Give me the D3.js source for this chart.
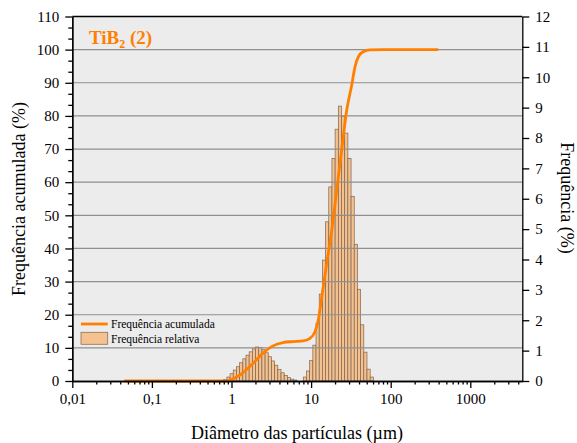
<!DOCTYPE html>
<html>
<head>
<meta charset="utf-8">
<script src="https://cdn.jsdelivr.net/npm/d3@7"></script>
<style>
  body { margin: 0; background: #fff; }
  svg { display: block; font-family: "Liberation Serif", "Times New Roman", serif; }
  .axis path, .axis line { stroke: #000; stroke-width: 1.3; }
  .axis text { font-size: 15px; fill: #000; }
</style>
</head>
<body>
<svg id="chart" width="577" height="443"></svg>
<script>
// histogram bins (lower edges, µm) and relative frequency (%)
const binEdges = [0.798, 0.875, 0.959, 1.052, 1.153, 1.265, 1.387, 1.521, 1.667, 1.828,
  2.004, 2.198, 2.410, 2.642, 2.897, 3.177, 3.483, 3.819, 4.188, 4.592,
  5.035, 5.521, 6.053, 6.637, 7.278, 7.980, 8.750, 9.594, 10.52, 11.53,
  12.65, 13.87, 15.21, 16.67, 18.28, 20.04, 21.98, 24.10, 26.42, 28.97,
  31.77, 34.83, 38.19, 41.88, 45.92, 50.35, 55.21, 60.53];
const freqRel = [0.05, 0.13, 0.24, 0.36, 0.47, 0.60, 0.73, 0.85, 0.96, 1.06,
  1.12, 1.10, 1.03, 0.93, 0.80, 0.66, 0.52, 0.38, 0.27, 0.18,
  0.11, 0.06, 0.03, 0, 0,
  0.13, 0.33, 0.67, 1.18, 1.90, 2.86, 3.98, 5.24, 6.39, 7.33,
  8.29, 9.05, 8.72, 8.16, 7.33, 6.08, 4.50, 3.02, 1.85, 0.95,
  0.39, 0.13];

// cumulative curve
const cumDiam = [0.045, 0.3, 0.85, 0.96, 1.28, 1.86, 2.49, 3.32, 4.43, 5.93, 7.9, 9.7,
  11.2, 12.3, 13.6, 15.7, 18.2, 21.0, 24.2, 28.0, 32.4, 35.6, 39.2, 45.3, 55, 80, 396];
const cumPct = [0, 0, 0, 0.3, 1.8, 5.3, 8.4, 10.6, 11.6, 11.9, 12.1, 12.9,
  14.9, 18.4, 25.4, 35.5, 45.6, 57.6, 69.7, 81.7, 89.3, 94.8, 97.8, 99.4, 99.9, 100, 100];

const xMajor = [0.01, 0.1, 1, 10, 100, 1000];
const leftTicks = [0, 10, 20, 30, 40, 50, 60, 70, 80, 90, 100, 110];
const rightTicks = [0, 1, 2, 3, 4, 5, 6, 7, 8, 9, 10, 11, 12];

const serif = '"Liberation Serif", "Times New Roman", serif';
const orange = '#ff7f00';
const L = 72.3, R = 522.3, T = 16.5, B = 381;

const svg = d3.select('#chart');

const x = d3.scaleLog().domain([0.01, 4500]).range([L, R]);
const yL = d3.scaleLinear().domain([0, 110]).range([B, T]);
const yR = d3.scaleLinear().domain([0, 12]).range([B, T]);

svg.append('rect')
  .attr('x', L).attr('y', T)
  .attr('width', R - L).attr('height', B - T)
  .attr('fill', '#ececec');

// bars
const bins = freqRel.map((v, i) => ({ x0: binEdges[i], x1: binEdges[i + 1] ?? binEdges[i] * 1.0965, v }))
  .filter((d) => d.v > 0);

svg.append('g')
  .selectAll('rect')
  .data(bins)
  .join('rect')
  .attr('x', (d) => x(d.x0))
  .attr('y', (d) => yR(d.v))
  .attr('width', (d) => x(d.x1) - x(d.x0))
  .attr('height', (d) => yR(0) - yR(d.v))
  .attr('fill', '#f5c28f')
  .attr('stroke', '#7d6552')
  .attr('stroke-width', 0.7);

// grid lines (drawn over bars like the original)
svg.append('g')
  .selectAll('line')
  .data(leftTicks.filter((d) => d > 0 && d < 110))
  .join('line')
  .attr('x1', L).attr('x2', R)
  .attr('y1', (d) => yL(d)).attr('y2', (d) => yL(d))
  .attr('stroke', '#8f8f8f')
  .attr('stroke-width', 1.2);

// cumulative curve
const line = d3.line()
  .x((d) => x(d[0]))
  .y((d) => yL(d[1]))
  .curve(d3.curveMonotoneX);

svg.append('path')
  .datum(cumDiam.map((d, i) => [d, cumPct[i]]))
  .attr('d', line)
  .attr('fill', 'none')
  .attr('stroke', orange)
  .attr('stroke-width', 2.8);

// axes
const fmt = (d) => String(d).replace('.', ',');
const styleAxis = (g) => g.attr('font-family', serif).attr('font-size', 15);

svg.append('g')
  .attr('class', 'axis')
  .attr('transform', `translate(0,${B})`)
  .call(d3.axisBottom(x).tickValues(xMajor).tickFormat(fmt).tickSize(7).tickPadding(5).tickSizeOuter(0))
  .call(styleAxis);

svg.append('g')
  .attr('class', 'axis')
  .attr('transform', `translate(0,${B})`)
  .call(d3.axisBottom(x).tickValues(x.ticks().filter((d) => !xMajor.includes(d))).tickFormat('').tickSize(3.5).tickSizeOuter(0));

const leftMinor = d3.range(0, 110.01, 10 / 3).filter((d) => Math.abs(d / 10 - Math.round(d / 10)) > 0.01);

svg.append('g')
  .attr('class', 'axis')
  .attr('transform', `translate(${L},0)`)
  .call(d3.axisLeft(yL).tickValues(leftTicks).tickSize(7).tickPadding(6).tickSizeOuter(0))
  .call(styleAxis);

svg.append('g')
  .attr('class', 'axis')
  .attr('transform', `translate(${L},0)`)
  .call(d3.axisLeft(yL).tickValues(leftMinor).tickFormat('').tickSize(4).tickSizeOuter(0));

svg.append('g')
  .attr('class', 'axis')
  .attr('transform', `translate(${R},0)`)
  .call(d3.axisRight(yR).tickValues(rightTicks).tickSize(7).tickPadding(6).tickSizeOuter(0))
  .call(styleAxis);

svg.append('line')
  .attr('x1', L).attr('x2', R).attr('y1', T).attr('y2', T)
  .attr('stroke', '#000').attr('stroke-width', 1.3);

// labels
svg.append('text')
  .attr('x', 297).attr('y', 439)
  .attr('text-anchor', 'middle')
  .attr('font-size', 18)
  .text('Diâmetro das partículas (µm)');

svg.append('text')
  .attr('transform', 'translate(25,199) rotate(-90)')
  .attr('text-anchor', 'middle')
  .attr('font-size', 18)
  .text('Frequência acumulada (%)');

svg.append('text')
  .attr('transform', 'translate(561,198) rotate(90)')
  .attr('text-anchor', 'middle')
  .attr('font-size', 18)
  .text('Frequência (%)');

const title = svg.append('text')
  .attr('x', 89).attr('y', 44)
  .attr('fill', orange)
  .attr('font-weight', 'bold')
  .attr('font-size', 19);
title.append('tspan').text('TiB');
title.append('tspan').attr('font-size', 12).attr('dy', 4).text('2');
title.append('tspan').attr('dy', -4).text(' (2)');

// legend
const leg = svg.append('g');
leg.append('line')
  .attr('x1', 81).attr('x2', 107.7).attr('y1', 324).attr('y2', 324)
  .attr('stroke', orange).attr('stroke-width', 2.8);
leg.append('rect')
  .attr('x', 81).attr('y', 332.3).attr('width', 26.7).attr('height', 12)
  .attr('fill', '#f5c28f').attr('stroke', '#8d6f57').attr('stroke-width', 0.8);
leg.append('text').attr('x', 111).attr('y', 327.5).attr('font-size', 11.5).text('Frequência acumulada');
leg.append('text').attr('x', 111).attr('y', 342.5).attr('font-size', 11.5).text('Frequência relativa');
</script>
</body>
</html>
